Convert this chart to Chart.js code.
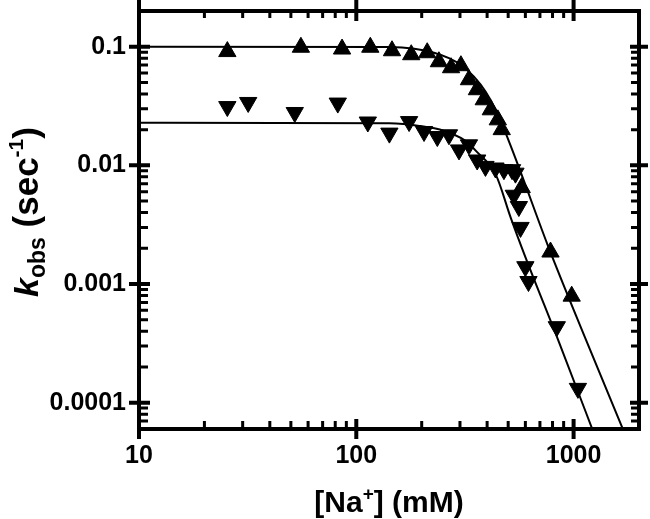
<!DOCTYPE html>
<html>
<head>
<meta charset="utf-8">
<script src="https://cdn.jsdelivr.net/npm/chart.js@4.4.1/dist/chart.umd.min.js"></script>
<style>
  html, body { margin: 0; padding: 0; background: #fff; }
  canvas { display: block; }
</style>
</head>
<body>
<canvas id="chart" width="650" height="519"></canvas>
<script>
// [Na+] (mM) vs kobs (sec^-1)
const upNa   = [25.5, 55.6, 86, 116, 146, 179, 212, 240, 273, 303, 330, 359, 386, 416, 448, 467, 577, 783, 980];
const upKobs = [0.091, 0.099, 0.0956, 0.099, 0.0925, 0.0856, 0.089, 0.0747, 0.0665, 0.0692, 0.0527, 0.0434, 0.0357, 0.0294, 0.0242, 0.0200, 0.0065, 0.00186, 0.00079];

const downNa   = [25.5, 31.8, 52.1, 82.2, 113, 142, 175, 205, 236, 267, 297, 330, 360, 393, 437, 478, 521, 540, 531, 560, 570, 600, 620, 837, 1047];
const downKobs = [0.0313, 0.0339, 0.0279, 0.0335, 0.0232, 0.0187, 0.0234, 0.0193, 0.0175, 0.0181, 0.0135, 0.0149, 0.0111, 0.0098, 0.0095, 0.0092, 0.0092, 0.0086, 0.0056, 0.0045, 0.0030, 0.0014, 0.00105, 0.000437, 0.000132];

// fit curves, sampled along the drawn lines
const upFitNa   = [10, 142, 185, 228, 267, 306, 348, 394, 443, 503, 577, 760, 1122, 1694, 1884];
const upFitKobs = [0.1, 0.0994, 0.0962, 0.089, 0.080, 0.0692, 0.0559, 0.0417, 0.0282, 0.0161, 0.00832, 0.00213, 0.000364, 0.0000586, 0.000037];
const downFitNa   = [10, 142, 195, 254, 313, 359, 439, 514, 602, 853, 1300];
const downFitKobs = [0.0229, 0.0226, 0.0215, 0.0195, 0.0164, 0.0130, 0.00832, 0.00361, 0.00166, 0.00033, 0.000044];

const xTicks = [10, 100, 1000];
const xTickLabels = ['10', '100', '1000'];
const yTicks = [0.0001, 0.001, 0.01, 0.1];
const yTickLabels = ['0.0001', '0.001', '0.01', '0.1'];

const FONT = '"Liberation Sans", Arial, Helvetica, sans-serif';

function pts(xs, ys) {
    return xs.map((v, i) => ({ x: v, y: ys[i] }));
}

// draw a run of text pieces (sub/superscripts) centred on x
function drawRich(ctx, parts, x, y) {
    let total = 0;
    parts.forEach(p => { ctx.font = p.f; p.w = ctx.measureText(p.t).width; total += p.w; });
    let cx = x - total / 2;
    parts.forEach(p => {
        ctx.font = p.f;
        ctx.fillText(p.t, cx, y + (p.dy || 0));
        cx += p.w;
    });
}

const framePlugin = {
    id: 'frame',
    afterDraw(chart) {
        const { ctx, chartArea: a, scales: { x, y } } = chart;
        ctx.save();
        ctx.strokeStyle = '#000';
        ctx.fillStyle = '#000';

        ctx.lineWidth = 4;
        ctx.strokeRect(a.left, a.top, a.right - a.left, a.bottom - a.top);

        // minor ticks, pointing inward
        ctx.lineWidth = 3;
        ctx.beginPath();
        for (let d = 10; d < 2000; d *= 10) {
            for (let m = 2; m < 10; m++) {
                const v = d * m;
                if (v >= x.max) break;
                const px = x.getPixelForValue(v);
                ctx.moveTo(px, a.bottom); ctx.lineTo(px, a.bottom - 8);
                ctx.moveTo(px, a.top); ctx.lineTo(px, a.top + 7);
            }
        }
        for (let d = 0.00001; d < 1; d *= 10) {
            for (let m = 2; m < 10; m++) {
                const v = d * m;
                if (v <= y.min * 1.001 || v >= y.max * 0.999) continue;
                const py = y.getPixelForValue(v);
                ctx.moveTo(a.left, py); ctx.lineTo(a.left + 9, py);
                ctx.moveTo(a.right, py); ctx.lineTo(a.right - 8, py);
            }
        }
        ctx.stroke();

        // major ticks, crossing the frame
        ctx.lineWidth = 4;
        ctx.beginPath();
        xTicks.forEach(v => {
            const px = x.getPixelForValue(v);
            ctx.moveTo(px, a.bottom - 10); ctx.lineTo(px, a.bottom + 10);
            ctx.moveTo(px, a.top - 11); ctx.lineTo(px, a.top + 10);
        });
        yTicks.forEach(v => {
            const py = y.getPixelForValue(v);
            ctx.moveTo(a.left - 10, py); ctx.lineTo(a.left + 11, py);
            ctx.moveTo(a.right - 9, py); ctx.lineTo(a.right + 9, py);
        });
        ctx.stroke();

        // axis titles
        ctx.textBaseline = 'alphabetic';
        drawRich(ctx, [
            { t: '[Na', f: 'bold 30px ' + FONT },
            { t: '+', f: 'bold 19px ' + FONT, dy: -12 },
            { t: '] (mM)', f: 'bold 30px ' + FONT }
        ], (a.left + a.right) / 2, 512);

        ctx.translate(38, 212);
        ctx.rotate(-Math.PI / 2);
        drawRich(ctx, [
            { t: 'k', f: 'italic bold 34px ' + FONT },
            { t: 'obs', f: 'bold 23px ' + FONT, dy: 7 },
            { t: ' (sec', f: 'bold 35px ' + FONT },
            { t: '-1', f: 'bold 21px ' + FONT, dy: -15 },
            { t: ')', f: 'bold 35px ' + FONT }
        ], 0, 0);
        ctx.restore();
    }
};

const ctx = document.getElementById('chart').getContext('2d');

const chart = new Chart(ctx, {
    type: 'line',
    data: {
        datasets: [{
            data: pts(upNa, upKobs),
            showLine: false,
            pointStyle: 'triangle',
            pointRadius: 10,
            pointBorderWidth: 1,
            pointBackgroundColor: '#000',
            pointBorderColor: '#000'
        }, {
            data: pts(downNa, downKobs),
            showLine: false,
            pointStyle: 'triangle',
            pointRotation: 180,
            pointRadius: 10,
            pointBorderWidth: 1,
            pointBackgroundColor: '#000',
            pointBorderColor: '#000'
        }, {
            data: pts(upFitNa, upFitKobs),
            borderColor: '#000',
            borderWidth: 2,
            pointRadius: 0,
            cubicInterpolationMode: 'monotone'
        }, {
            data: pts(downFitNa, downFitKobs),
            borderColor: '#000',
            borderWidth: 2,
            pointRadius: 0,
            cubicInterpolationMode: 'monotone'
        }]
    },
    options: {
        responsive: false,
        animation: false,
        devicePixelRatio: 1,
        layout: { padding: { top: 11, right: 9, left: 0, bottom: 0 } },
        plugins: { legend: { display: false }, tooltip: { enabled: false } },
        scales: {
            x: {
                type: 'logarithmic',
                min: 10,
                max: 2000,
                grid: { display: false, drawTicks: false },
                border: { display: false },
                afterBuildTicks: s => { s.ticks = xTicks.map(v => ({ value: v })); },
                afterFit: s => { s.height = 90; s.paddingLeft = 0; s.paddingRight = 0; },
                ticks: {
                    autoSkip: false,
                    maxRotation: 0,
                    padding: 12,
                    color: '#000',
                    font: { family: FONT, size: 25, weight: 'bold' },
                    callback: (v, i) => xTickLabels[i]
                }
            },
            y: {
                type: 'logarithmic',
                min: 0.00006,
                max: 0.2,
                grid: { display: false, drawTicks: false },
                border: { display: false },
                afterBuildTicks: s => { s.ticks = yTicks.map(v => ({ value: v })); },
                afterFit: s => { s.width = 139; s.paddingTop = 0; s.paddingBottom = 0; },
                ticks: {
                    autoSkip: false,
                    padding: 13,
                    color: '#000',
                    font: { family: FONT, size: 25, weight: 'bold' },
                    callback: (v, i) => yTickLabels[i]
                }
            }
        }
    },
    plugins: [framePlugin]
});
</script>
</body>
</html>
